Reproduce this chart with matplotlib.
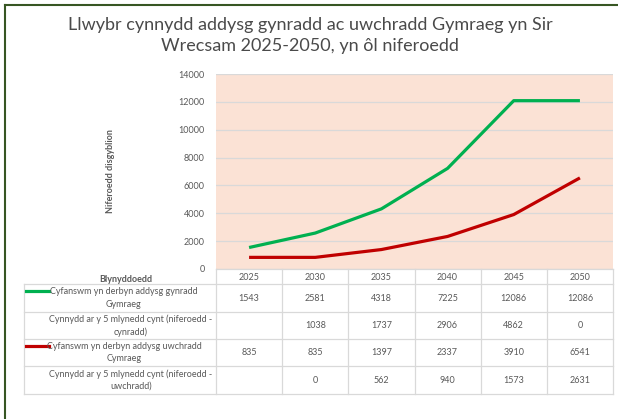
import matplotlib.pyplot as plt
from matplotlib.lines import Line2D

# data
years = ['2025', '2030', '2035', '2040', '2045', '2050']
primary = [1543, 2581, 4318, 7225, 12086, 12086]
primary_growth = ['', '1038', '1737', '2906', '4862', '0']
secondary = [835, 835, 1397, 2337, 3910, 6541]
secondary_growth = ['', '0', '562', '940', '1573', '2631']
row_labels = ['Cyfanswm yn derbyn addysg gynradd\nGymraeg',
              'Cynnydd ar y 5 mlynedd cynt (niferoedd -\ncynradd)',
              'Cyfanswm yn derbyn addysg uwchradd\nCymraeg',
              'Cynnydd ar y 5 mlynedd cynt (niferoedd -\nuwchradd)']
yticks = [0, 2000, 4000, 6000, 8000, 10000, 12000, 14000]

W, H = 618, 419
plt.rcParams['font.family'] = ['Lato', 'DejaVu Sans']

fig = plt.figure(figsize=(W / 100, H / 100), dpi=100)


def fx(x):
    return x / W


def fy(y):
    return 1 - y / H


grey = '#595959'
gridc = '#D9D9D9'
green = '#00B050'
red = '#C00000'

# outer frame (left + top visible)
fig.add_artist(Line2D([fx(5), fx(5)], [fy(5), fy(419)], color='#375623', lw=1.5))
fig.add_artist(Line2D([fx(5), fx(618)], [fy(5), fy(5)], color='#375623', lw=1.5))

fig.text(fx(310), fy(35.5), 'Llwybr cynnydd addysg gynradd ac uwchradd Gymraeg yn Sir\nWrecsam 2025-2050, yn ôl niferoedd',
         ha='center', va='center', fontsize=13, color='#4a4a4a', linespacing=1.45)

# plot area
left, right, top, bot = 216, 613, 74, 269
ax = fig.add_axes([fx(left), fy(bot), fx(right - left), (bot - top) / H])
ax.set_facecolor('#FBE2D5')
x = range(len(years))
ax.plot(x, primary, color=green, lw=2.3, solid_capstyle='butt')
ax.plot(x, secondary, color=red, lw=2.3, solid_capstyle='butt')
ax.set_xlim(-0.5, len(years) - 0.5)
ax.set_ylim(0, 14000)
ax.set_yticks(yticks)
ax.set_yticklabels([str(v) for v in yticks], fontsize=6.5, color=grey)
ax.set_xticks([])
ax.grid(axis='y', color=gridc, lw=0.9)
ax.set_axisbelow(True)
ax.tick_params(axis='y', length=0, pad=8)
for s in ax.spines.values():
    s.set_visible(False)
ax.set_ylabel('Niferoedd disgyblion', fontsize=6.5, fontweight='bold', color=grey, labelpad=46)

# data table below
col_w = (right - left) / len(years)
rows_y = [284, 312, 339, 366, 394]
tab_left = 24

fig.add_artist(Line2D([fx(left), fx(right)], [fy(bot), fy(bot)], color=gridc, lw=0.9))
for r in rows_y:
    fig.add_artist(Line2D([fx(tab_left), fx(right)], [fy(r), fy(r)], color=gridc, lw=0.9))
fig.add_artist(Line2D([fx(tab_left), fx(tab_left)], [fy(rows_y[0]), fy(rows_y[-1])], color=gridc, lw=0.9))
for i in range(len(years) + 1):
    xx = left + i * col_w
    fig.add_artist(Line2D([fx(xx), fx(xx)], [fy(bot), fy(rows_y[-1])], color=gridc, lw=0.9))

fig.text(fx(126), fy(279), 'Blynyddoedd', ha='center', va='center', fontsize=6.5,
         fontweight='bold', color=grey)
for i, yr in enumerate(years):
    fig.text(fx(left + (i + 0.5) * col_w), fy(277), yr, ha='center', va='center',
             fontsize=6.5, color=grey)

table_rows = [[str(v) for v in primary], primary_growth,
              [str(v) for v in secondary], secondary_growth]
key_colors = [green, None, red, None]
for k, vals in enumerate(table_rows):
    yc = (rows_y[k] + rows_y[k + 1]) / 2
    lx = 124 if key_colors[k] else 131
    fig.text(fx(lx), fy(yc), row_labels[k], ha='center', va='center', fontsize=6.5,
             color=grey, linespacing=1.45)
    if key_colors[k]:
        fig.add_artist(Line2D([fx(26), fx(49)], [fy(yc - 6.5), fy(yc - 6.5)],
                              color=key_colors[k], lw=2.3))
    for i, v in enumerate(vals):
        fig.text(fx(left + (i + 0.5) * col_w), fy(yc), v, ha='center', va='center',
                 fontsize=6.5, color=grey)

fig.savefig('out.png', dpi=100)
